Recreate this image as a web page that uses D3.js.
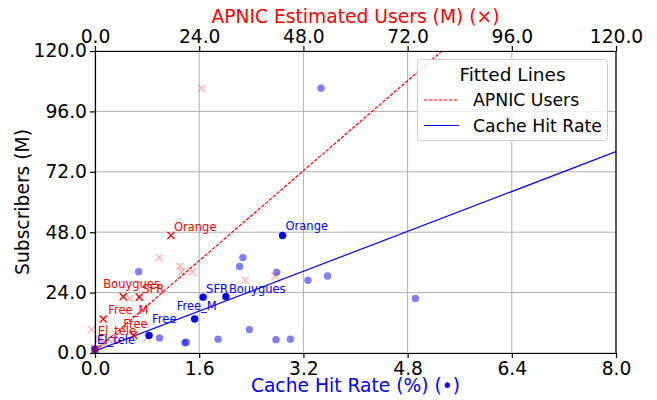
<!DOCTYPE html>
<html><head><meta charset="utf-8">
<script src="https://cdn.jsdelivr.net/npm/d3@7"></script>
<style>
body{margin:0;background:#fff;}
svg{display:block;font-family:"DejaVu Sans",sans-serif;}
</style></head>
<body><svg id="chart" width="657" height="400"></svg>
<script>
// ---- data ----
const labels      = ["Orange","SFR","Bouygues","Free_M","Free","El_tele"];
const labSubs     = [46.7, 22.2, 22.4, 13.5, 7.0, 1.5];
const labCache    = [2.88, 1.66, 2.01, 1.53, 0.83, 0.0];
const labApnic    = [17.5, 10.2, 6.5, 1.9, 8.9, 0.0];

const otherSubs   = [105.2, 37.9, 34.4, 32.3, 32.1, 30.6, 28.9, 21.7, 9.3, 6.0, 5.5, 5.3, 5.5, 4.3, 4.1];
const otherCache  = [3.47, 2.27, 2.22, 0.67, 2.79, 3.57, 3.27, 4.92, 2.37, 0.99, 1.89, 2.78, 3.0, 1.40, 1.38];
const otherApnic  = [24.6, 14.8, 19.6, 20.0, 22.4, 41.5, 34.6, 8.0, -0.8, 12.0, 3.0, 4.4, 0.8, 1.8, 2.5];

const cacheTicks  = [0, 1.6, 3.2, 4.8, 6.4, 8.0];
const apnicTicks  = [0, 24, 48, 72, 96, 120];
const subsTicks   = [0, 24, 48, 72, 96, 120];

// fitted lines: [slope, intercept]
const apnicFit = [1.49, 0.9];
const cacheFit = [9.9, 0.8];

// label offsets in px (style, not data), same order as labels
const blueLabelOff = [[3,-5],[3,-4],[3,-4],[-18,-9],[3,-12],[2,-5.5]];
const redLabelOff  = [[3,-4.5],[3,-4.5],[-20,-8.5],[5,-4.8],[-10.5,-7],[3,-14]];

// ---- layout ----
const svg = d3.select("#chart");
const L = 95, R = 616, T = 51, B = 353;
const xC = d3.scaleLinear().domain([0, 8]).range([L, R]);
const xA = d3.scaleLinear().domain([0, 120]).range([L, R]);
const y  = d3.scaleLinear().domain([0, 120]).range([B, T]);

svg.append("defs").append("clipPath").attr("id","clip")
  .append("rect").attr("x",L).attr("y",T).attr("width",R-L).attr("height",B-T);

// grid
const grid = svg.append("g");
grid.selectAll(".gx").data(cacheTicks).enter().append("line")
  .attr("x1",d=>xC(d)).attr("x2",d=>xC(d)).attr("y1",T).attr("y2",B)
  .attr("stroke","#b0b0b0").attr("stroke-width",1);
grid.selectAll(".gy").data(subsTicks).enter().append("line")
  .attr("x1",L).attr("x2",R).attr("y1",d=>y(d)).attr("y2",d=>y(d))
  .attr("stroke","#b0b0b0").attr("stroke-width",1);

// fitted lines
const plot = svg.append("g").attr("clip-path","url(#clip)");
plot.append("line")
  .attr("x1",xA(0)).attr("y1",y(apnicFit[1]))
  .attr("x2",xA(120)).attr("y2",y(apnicFit[0]*120+apnicFit[1]))
  .attr("stroke","#ff0000").attr("stroke-width",1.2).attr("stroke-dasharray","3.5,1.5");
plot.append("line")
  .attr("x1",xC(0)).attr("y1",y(cacheFit[1]))
  .attr("x2",xC(8)).attr("y2",y(cacheFit[0]*8+cacheFit[1]))
  .attr("stroke","#0000ff").attr("stroke-width",1.2);

// markers
const pts = svg.append("g");
function xMark(g, cx, cy, color, sw){
  const s = 3.6;
  g.append("path").attr("d",`M${cx-s},${cy-s}L${cx+s},${cy+s}M${cx-s},${cy+s}L${cx+s},${cy-s}`)
   .attr("stroke",color).attr("stroke-width",sw).attr("fill","none");
}
otherSubs.forEach((s,i)=>{
  pts.append("circle").attr("cx",xC(otherCache[i])).attr("cy",y(s)).attr("r",3.7)
    .attr("fill","#0000ff").attr("fill-opacity",0.5);
});
otherSubs.forEach((s,i)=>{
  xMark(pts, xA(otherApnic[i]), y(s), "rgba(255,0,0,0.3)", 1.4);
});
labSubs.forEach((s,i)=>{
  pts.append("circle").attr("cx",xC(labCache[i])).attr("cy",y(s)).attr("r",3.7).attr("fill","#0000ff");
});
labSubs.forEach((s,i)=>{
  xMark(pts, xA(labApnic[i]), y(s), "#ff0000", 1.4);
});
// labels
const lab = svg.append("g").attr("font-size","11.5px");
labels.forEach((t,i)=>{
  lab.append("text").attr("x",xC(labCache[i])+blueLabelOff[i][0]).attr("y",y(labSubs[i])+blueLabelOff[i][1])
    .attr("fill","#0000ff").text(t);
  lab.append("text").attr("x",xA(labApnic[i])+redLabelOff[i][0]).attr("y",y(labSubs[i])+redLabelOff[i][1])
    .attr("fill","#ff0000").text(t);
});

// axes
function styleAxis(g){
  g.selectAll("path").attr("stroke","#000").attr("stroke-width",1.2);
  g.selectAll("line").attr("stroke","#000").attr("stroke-width",1.2);
  g.selectAll("text").attr("font-size","18.7px").attr("font-family","DejaVu Sans").attr("fill","#000");
}
const fmt = d3.format(".1f");
svg.append("g").attr("transform",`translate(0,${B})`)
  .call(d3.axisBottom(xC).tickValues(cacheTicks).tickFormat(fmt).tickSize(5).tickPadding(4).tickSizeOuter(0))
  .call(styleAxis);
svg.append("g").attr("transform",`translate(0,${T})`)
  .call(d3.axisTop(xA).tickValues(apnicTicks).tickFormat(fmt).tickSize(5).tickPadding(3).tickSizeOuter(0))
  .call(styleAxis);
svg.append("g").attr("transform",`translate(${L},0)`)
  .call(d3.axisLeft(y).tickValues(subsTicks).tickFormat(fmt).tickSize(5).tickPadding(3).tickSizeOuter(0))
  .call(styleAxis);
svg.append("line").attr("x1",R).attr("x2",R).attr("y1",T).attr("y2",B).attr("stroke","#000").attr("stroke-width",1.2);

// axis titles
svg.append("text").attr("x",(L+R)/2).attr("y",392).attr("text-anchor","middle")
  .attr("font-size","18.7px").attr("fill","#0000ff").text("Cache Hit Rate (%) (•)");
svg.append("text").attr("x",(L+R)/2).attr("y",23).attr("text-anchor","middle")
  .attr("font-size","18.7px").attr("fill","#ff0000").text("APNIC Estimated Users (M) (×)");
svg.append("text").attr("transform",`translate(28.5,${(T+B)/2}) rotate(-90)`).attr("text-anchor","middle")
  .attr("font-size","18.7px").attr("fill","#000").text("Subscribers (M)");

// legend
const lg = svg.append("g");
lg.append("rect").attr("x",417.5).attr("y",59.5).attr("width",190).attr("height",81).attr("rx",3)
  .attr("fill","#fff").attr("fill-opacity",0.8).attr("stroke","#cccccc");
lg.append("text").attr("x",512.5).attr("y",81).attr("text-anchor","middle").attr("font-size","18.5px").text("Fitted Lines");
lg.append("line").attr("x1",424).attr("x2",459).attr("y1",100).attr("y2",100)
  .attr("stroke","#ff0000").attr("stroke-width",1.2).attr("stroke-dasharray","3.5,1.5");
lg.append("text").attr("x",473).attr("y",106).attr("font-size","17.3px").text("APNIC Users");
lg.append("line").attr("x1",424).attr("x2",459).attr("y1",125.5).attr("y2",125.5)
  .attr("stroke","#0000ff").attr("stroke-width",1.2);
lg.append("text").attr("x",473).attr("y",131.5).attr("font-size","17.3px").text("Cache Hit Rate");
</script></body></html>
